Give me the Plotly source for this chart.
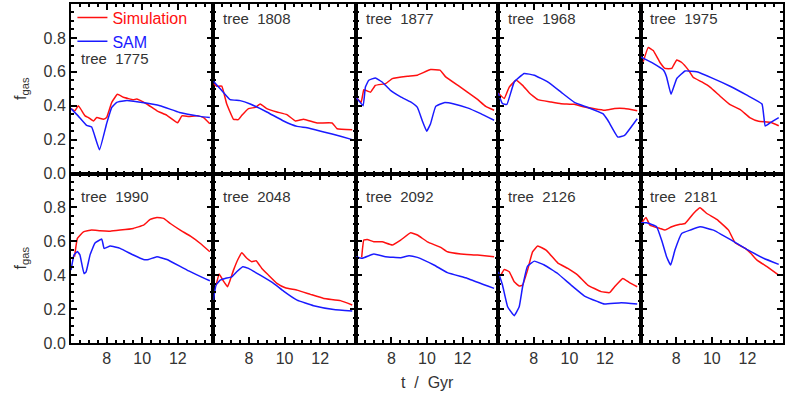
import plotly.graph_objects as go
from plotly.subplots import make_subplots

# gas fraction vs cosmic time, simulation vs SAM, per merger tree
trees = ["1775", "1808", "1877", "1968", "1975", "1990", "2048", "2092", "2126", "2181"]

t_sim_1775 = [6.0, 6.22, 6.41, 6.79, 6.98, 7.26, 7.45, 7.82, 8.0, 8.29, 8.61, 8.95, 9.5, 9.7, 10.26, 10.83, 11.39, 11.99, 12.23, 12.61, 13.08, 13.45, 13.8]
f_sim_1775 = [0.383, 0.37, 0.40, 0.34, 0.33, 0.31, 0.33, 0.32, 0.33, 0.42, 0.467, 0.45, 0.435, 0.44, 0.41, 0.37, 0.343, 0.30, 0.34, 0.337, 0.34, 0.33, 0.294]
t_sam_1775 = [6.0, 6.4, 6.88, 7.16, 7.6, 8.0, 8.29, 8.57, 9.14, 9.9, 11.0, 12.1, 13.27, 13.8]
f_sam_1775 = [0.383, 0.34, 0.284, 0.274, 0.14, 0.294, 0.39, 0.42, 0.43, 0.42, 0.40, 0.36, 0.337, 0.33]

t_sim_1808 = [6.0, 6.19, 6.47, 6.75, 7.13, 7.4, 7.6, 7.97, 8.35, 8.63, 9.0, 9.57, 10.13, 10.6, 11.07, 11.82, 12.67, 12.95, 13.8]
f_sim_1808 = [0.53, 0.515, 0.515, 0.41, 0.32, 0.318, 0.343, 0.383, 0.39, 0.41, 0.383, 0.363, 0.347, 0.31, 0.32, 0.298, 0.298, 0.264, 0.258]
t_sam_1808 = [6.0, 6.47, 6.94, 7.5, 8.07, 9.0, 9.94, 10.7, 11.26, 12.2, 13.14, 13.8]
f_sam_1808 = [0.544, 0.49, 0.436, 0.43, 0.41, 0.363, 0.31, 0.278, 0.27, 0.245, 0.22, 0.20]

t_sim_1877 = [6.0, 6.3, 6.45, 6.64, 6.83, 7.1, 7.67, 8.05, 8.9, 9.46, 10.2, 10.73, 11.05, 11.8, 12.27, 12.84, 13.3, 13.77]
f_sim_1877 = [0.452, 0.42, 0.495, 0.487, 0.48, 0.52, 0.53, 0.56, 0.574, 0.58, 0.613, 0.61, 0.57, 0.515, 0.48, 0.437, 0.396, 0.373]
t_sam_1877 = [6.0, 6.41, 6.54, 6.73, 7.1, 7.48, 7.95, 8.52, 9.08, 9.46, 9.74, 9.98, 10.2, 10.49, 10.96, 11.52, 12.27, 13.02, 13.77]
f_sam_1877 = [0.452, 0.40, 0.51, 0.55, 0.564, 0.54, 0.49, 0.452, 0.422, 0.39, 0.31, 0.25, 0.294, 0.396, 0.418, 0.41, 0.387, 0.353, 0.314]

t_sim_1968 = [6.0, 6.34, 6.62, 7.0, 7.37, 7.75, 8.22, 8.97, 9.53, 10.28, 10.85, 11.97, 12.54, 13.1, 13.81]
f_sim_1968 = [0.475, 0.442, 0.51, 0.55, 0.52, 0.475, 0.436, 0.422, 0.412, 0.408, 0.392, 0.373, 0.383, 0.383, 0.37]
t_sam_1968 = [6.0, 6.24, 6.49, 6.9, 7.46, 8.03, 8.78, 9.53, 10.28, 11.03, 11.88, 12.16, 12.72, 13.1, 13.81]
f_sam_1968 = [0.475, 0.412, 0.408, 0.54, 0.59, 0.58, 0.54, 0.48, 0.42, 0.39, 0.353, 0.314, 0.215, 0.225, 0.323]

t_sim_1975 = [6.15, 6.43, 6.71, 7.09, 7.37, 7.75, 8.03, 8.31, 8.69, 8.97, 9.44, 9.9, 10.47, 11.03, 11.6, 12.16, 12.63, 13.29, 13.76]
f_sim_1975 = [0.66, 0.744, 0.725, 0.655, 0.62, 0.62, 0.67, 0.655, 0.61, 0.566, 0.54, 0.51, 0.456, 0.406, 0.377, 0.328, 0.308, 0.302, 0.282]
t_sam_1975 = [6.0, 6.71, 7.28, 7.46, 7.71, 8.03, 8.5, 9.15, 10.09, 11.03, 11.97, 12.82, 13.0, 13.29, 13.76]
f_sam_1975 = [0.688, 0.65, 0.61, 0.57, 0.467, 0.56, 0.605, 0.60, 0.56, 0.515, 0.462, 0.41, 0.28, 0.30, 0.33]

t_sim_1990 = [6.2, 6.36, 6.7, 7.16, 7.63, 8.2, 8.76, 9.5, 10.07, 10.45, 10.83, 11.2, 11.58, 12.14, 12.71, 13.27, 13.8]
f_sim_1990 = [0.51, 0.617, 0.656, 0.666, 0.662, 0.66, 0.666, 0.676, 0.695, 0.729, 0.741, 0.735, 0.705, 0.666, 0.63, 0.587, 0.538]
t_sam_1990 = [6.0, 6.17, 6.36, 6.5, 6.73, 6.85, 7.07, 7.35, 7.73, 7.86, 8.2, 8.76, 9.5, 10.07, 10.36, 10.83, 11.39, 12.52, 13.8]
f_sam_1990 = [0.43, 0.52, 0.54, 0.52, 0.41, 0.42, 0.52, 0.59, 0.613, 0.558, 0.572, 0.558, 0.519, 0.493, 0.493, 0.509, 0.493, 0.43, 0.367]

t_sim_2048 = [6.15, 6.32, 6.53, 6.79, 6.94, 7.13, 7.41, 7.6, 7.88, 8.16, 8.4, 8.72, 9.1, 9.57, 10.04, 10.7, 11.45, 12.2, 13.14, 13.8]
f_sim_2048 = [0.34, 0.407, 0.371, 0.332, 0.371, 0.43, 0.5, 0.532, 0.5, 0.48, 0.485, 0.44, 0.40, 0.352, 0.326, 0.312, 0.287, 0.263, 0.25, 0.224]
t_sam_2048 = [6.0, 6.15, 6.38, 6.66, 7.03, 7.31, 7.65, 7.97, 8.63, 9.38, 9.94, 10.7, 11.63, 12.76, 13.8]
f_sam_2048 = [0.253, 0.342, 0.371, 0.381, 0.39, 0.42, 0.45, 0.44, 0.40, 0.352, 0.306, 0.253, 0.22, 0.198, 0.189]

t_sim_2092 = [6.33, 6.45, 6.64, 7.01, 7.48, 8.05, 8.52, 9.08, 9.46, 10.02, 10.77, 11.15, 11.9, 12.84, 13.77]
f_sim_2092 = [0.505, 0.607, 0.611, 0.597, 0.597, 0.578, 0.607, 0.65, 0.637, 0.597, 0.564, 0.538, 0.525, 0.519, 0.509]
t_sam_2092 = [6.0, 6.36, 7.01, 7.67, 8.52, 8.99, 9.46, 10.39, 11.15, 12.27, 13.77]
f_sam_2092 = [0.509, 0.50, 0.525, 0.509, 0.503, 0.515, 0.505, 0.46, 0.415, 0.381, 0.322]

t_sim_2126 = [6.15, 6.34, 6.62, 6.9, 7.18, 7.37, 7.65, 7.93, 8.22, 8.69, 9.34, 9.91, 10.47, 11.03, 11.78, 12.25, 12.54, 13.0, 13.38, 13.81]
f_sim_2126 = [0.40, 0.434, 0.42, 0.361, 0.336, 0.342, 0.43, 0.538, 0.572, 0.548, 0.473, 0.44, 0.40, 0.342, 0.303, 0.297, 0.332, 0.381, 0.356, 0.332]
t_sam_2126 = [6.0, 6.24, 6.53, 6.9, 7.18, 7.37, 7.65, 8.03, 8.59, 9.34, 10.09, 10.85, 11.6, 11.97, 12.91, 13.81]
f_sam_2126 = [0.42, 0.342, 0.214, 0.161, 0.214, 0.332, 0.454, 0.483, 0.46, 0.41, 0.342, 0.277, 0.244, 0.23, 0.238, 0.23]

t_sim_2181 = [6.0, 6.3, 6.53, 7.09, 7.37, 7.75, 8.22, 8.5, 8.97, 9.34, 9.72, 10.28, 10.94, 11.31, 11.88, 12.2, 12.54, 13.1, 13.76]
f_sim_2181 = [0.70, 0.741, 0.695, 0.676, 0.666, 0.686, 0.70, 0.705, 0.764, 0.798, 0.764, 0.729, 0.666, 0.591, 0.558, 0.528, 0.489, 0.45, 0.401]
t_sam_2181 = [6.0, 6.34, 6.9, 7.18, 7.46, 7.69, 7.93, 8.31, 8.78, 9.34, 10.09, 11.03, 11.97, 12.91, 13.76]
f_sam_2181 = [0.709, 0.709, 0.686, 0.607, 0.509, 0.46, 0.548, 0.646, 0.666, 0.686, 0.666, 0.611, 0.552, 0.50, 0.464]

panels = [
    (t_sim_1775, f_sim_1775, t_sam_1775, f_sam_1775),
    (t_sim_1808, f_sim_1808, t_sam_1808, f_sam_1808),
    (t_sim_1877, f_sim_1877, t_sam_1877, f_sam_1877),
    (t_sim_1968, f_sim_1968, t_sam_1968, f_sam_1968),
    (t_sim_1975, f_sim_1975, t_sam_1975, f_sam_1975),
    (t_sim_1990, f_sim_1990, t_sam_1990, f_sam_1990),
    (t_sim_2048, f_sim_2048, t_sam_2048, f_sam_2048),
    (t_sim_2092, f_sim_2092, t_sam_2092, f_sam_2092),
    (t_sim_2126, f_sim_2126, t_sam_2126, f_sam_2126),
    (t_sim_2181, f_sim_2181, t_sam_2181, f_sam_2181),
]

x_ticks = [6, 8, 10, 12, 14]
x_ticktext = ["", "8", "10", "12", ""]
y_ticks = [0.0, 0.2, 0.4, 0.6, 0.8]
y_ticktext = ["0.0", "0.2", "0.4", "0.6", "0.8"]

red = "#ff1010"
blue = "#1a1aff"
font = "Liberation Sans"
txt = "#333"

fig = make_subplots(rows=2, cols=5, horizontal_spacing=0, vertical_spacing=0)

for i, (ts, fs, tm, fm) in enumerate(panels):
    row = i // 5 + 1
    col = i % 5 + 1
    first = (i == 0)
    fig.add_trace(go.Scatter(x=ts, y=fs, mode="lines", line=dict(color=red, width=1.5, shape="spline", smoothing=0.3),
                             name='<span style="color:#ff1010">Simulation</span>', showlegend=first), row=row, col=col)
    fig.add_trace(go.Scatter(x=tm, y=fm, mode="lines", line=dict(color=blue, width=1.5, shape="spline", smoothing=0.3),
                             name='<span style="color:#1a1aff">SAM</span>', showlegend=first), row=row, col=col)

    label_y = 0.915 if row == 1 else 0.862
    if first:
        label_y = 0.68
    fig.add_annotation(text="tree  " + trees[i], xref="x domain" if i == 0 else "x%d domain" % (i + 1),
                       yref="y domain" if i == 0 else "y%d domain" % (i + 1),
                       x=0.055, y=label_y, xanchor="left", yanchor="middle", showarrow=False,
                       font=dict(family=font, size=15, color=txt))

    fig.update_xaxes(range=[6, 14], tickmode="array", tickvals=x_ticks,
                     ticktext=x_ticktext if row == 2 else [""] * 5,
                     ticks="inside", ticklen=6, tickwidth=1.5, tickcolor="black",
                     minor=dict(tickmode="linear", tick0=6, dtick=0.5, ticks="inside", ticklen=3, tickwidth=1.5, tickcolor="black"),
                     showline=True, linewidth=2, linecolor="black", mirror="allticks",
                     showgrid=False, zeroline=False, automargin=False,
                     tickfont=dict(family=font, size=16, color=txt), row=row, col=col)
    fig.update_yaxes(range=[0, 1.0], tickmode="array", tickvals=y_ticks,
                     ticktext=y_ticktext if col == 1 else [""] * 5,
                     ticks="inside", ticklen=6, tickwidth=1.5, tickcolor="black",
                     minor=dict(tickmode="linear", tick0=0, dtick=0.05, ticks="inside", ticklen=3, tickwidth=1.5, tickcolor="black"),
                     showline=True, linewidth=2, linecolor="black", mirror="allticks",
                     showgrid=False, zeroline=False, automargin=False,
                     tickfont=dict(family=font, size=16, color=txt), row=row, col=col)

for r in (1, 2):
    fig.update_yaxes(title=dict(text="f<sub>gas</sub>", font=dict(family=font, size=16, color=txt), standoff=13), row=r, col=1)

fig.add_annotation(text="t  /  Gyr", xref="paper", yref="paper", x=0.5, y=0, yshift=-39,
                   xanchor="center", yanchor="middle", showarrow=False,
                   font=dict(family=font, size=16, color=txt))

fig.update_layout(
    width=789, height=395,
    margin=dict(l=71, r=6, t=4, b=52, autoexpand=False),
    paper_bgcolor="white", plot_bgcolor="white",
    showlegend=True,
    legend=dict(x=0.002, y=1.01, xanchor="left", yanchor="top", bgcolor="rgba(0,0,0,0)",
                font=dict(family=font, size=16), tracegroupgap=0, itemwidth=30),
)

# the page body has a default margin, drop it so the figure sits at the window corner
fig.write_html("out.html", config={"displayModeBar": False},
               post_script="document.body.style.margin='0';")
